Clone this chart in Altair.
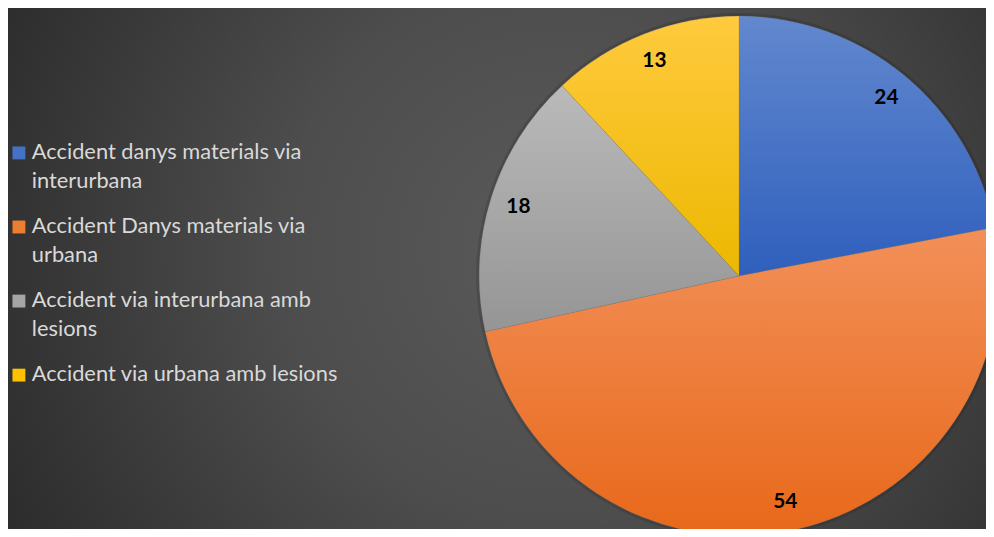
import math
import altair as alt
import pandas as pd

# ---- data ----
categories = [
    "Accident danys materials via interurbana",
    "Accident Danys materials via urbana",
    "Accident via interurbana amb lesions",
    "Accident via urbana amb lesions",
]
legend_labels = [
    "Accident danys materials via\ninterurbana",
    "Accident Danys materials via\nurbana",
    "Accident via interurbana amb\nlesions",
    "Accident via urbana amb lesions",
]
values = [24, 54, 18, 13]

# ---- styles ----
colors_top = ["#6288ce", "#f29059", "#bababa", "#ffca3e"]
colors_bottom = ["#2f5fbd", "#e8681a", "#959595", "#ecb800"]
legend_colors = ["#4472c4", "#ed7d31", "#a5a5a5", "#ffc000"]

W, H = 986, 521
CX, CY, R = 737, 268, 262
FONT = "Lato"

df = pd.DataFrame({
    "category": categories,
    "label": legend_labels,
    "value": values,
    "idx": list(range(len(categories))),
})

base = (
    alt.Chart(df)
    .transform_joinaggregate(total="sum(value)")
    .transform_window(cum="sum(value)", sort=[alt.SortField("idx")], frame=[None, 0])
    .transform_calculate(
        f0="(datum.cum - datum.value) / datum.total",
        f1="datum.cum / datum.total",
        fm="(datum.cum - datum.value / 2) / datum.total",
    )
)

theta_scale = alt.Scale(domain=[0, 1], range=[0, 2 * math.pi])

# background radial gradient
bg = (
    alt.Chart(df)
    .transform_aggregate(n="count()")
    .mark_rect(
        fill=alt.Gradient(
            gradient="radial",
            x1=0.5, y1=0.5, r1=0,
            x2=0.5, y2=0.5, r2=0.5,
            stops=[
                alt.GradientStop(color="#5a5a5a", offset=0),
                alt.GradientStop(color="#4d4d4d", offset=0.43),
                alt.GradientStop(color="#2a2a2a", offset=1),
            ],
        )
    )
    .encode(
        x=alt.value(-88), x2=alt.value(1192),
        y=alt.value(-398), y2=alt.value(882),
    )
)

shadow = base.mark_arc(radius=R + 3, fill="black", opacity=0.12).encode(
    theta=alt.Theta("f0:Q", scale=theta_scale),
    theta2="f1:Q",
    x=alt.value(CX), y=alt.value(CY),
)

slices = []
for i in range(len(categories)):
    grad = alt.Gradient(
        gradient="linear", x1=0, y1=0, x2=0, y2=1,
        stops=[
            alt.GradientStop(color=colors_top[i], offset=0),
            alt.GradientStop(color=colors_bottom[i], offset=1),
        ],
    )
    slices.append(
        base.transform_filter(alt.datum.idx == i)
        .mark_arc(radius=R, fill=grad, stroke="#7a7a7a", strokeWidth=0.4, strokeOpacity=0.6)
        .encode(
            theta=alt.Theta("f0:Q", scale=theta_scale),
            theta2="f1:Q",
            x=alt.value(CX), y=alt.value(CY),
        )
    )

labels = base.mark_text(
    radius=233, fontSize=21, fontWeight="bold", font=FONT, color="black",
    align="center", baseline="middle",
).encode(
    theta=alt.Theta("fm:Q", scale=theta_scale),
    text=alt.Text("value:Q"),
    x=alt.value(CX), y=alt.value(CY),
)

ys = alt.Scale(range=[142, 366], padding=0)

leg_sq = base.mark_square(size=169, opacity=1, yOffset=2).encode(
    x=alt.value(11),
    y=alt.Y("idx:O", scale=ys, axis=None),
    color=alt.Color("category:N", scale=alt.Scale(domain=categories, range=legend_colors), legend=None),
)

leg_txt = base.mark_text(
    align="left", baseline="alphabetic", dy=8, lineBreak="\n", lineHeight=29,
    fontSize=22, font=FONT, color="#d9d9d9",
).encode(
    x=alt.value(24),
    y=alt.Y("idx:O", scale=ys, axis=None),
    text="label:N",
)

chart = (
    alt.layer(bg, shadow, *slices, labels, leg_sq, leg_txt)
    .properties(width=W, height=H, padding=0, autosize=alt.AutoSizeParams(type="none"))
    .configure_view(stroke=None)
    .configure(background="#2b2b2b")
)

chart.save("out.html", embed_options={"renderer": "svg", "actions": False})
